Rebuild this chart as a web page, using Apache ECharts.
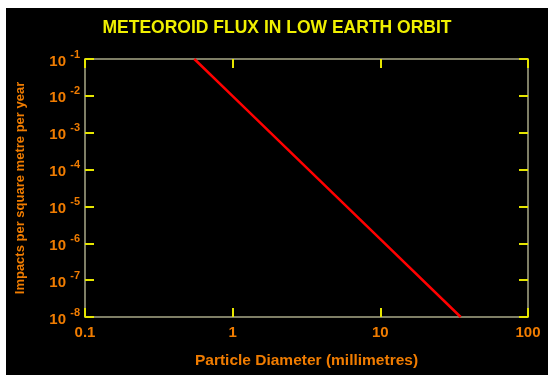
<!DOCTYPE html>
<html><head><meta charset="utf-8">
<script src="https://cdn.jsdelivr.net/npm/echarts@6/dist/echarts.min.js"></script>
<style>
html,body{margin:0;padding:0;background:#fff;width:548px;height:375px;overflow:hidden}
#c{position:absolute;left:6px;top:8px;width:542px;height:367px;background:#000}
</style></head>
<body><div id="c"></div>
<script>
var titleText = 'METEOROID FLUX IN LOW EARTH ORBIT';
var xName = 'Particle Diameter (millimetres)';
var yName = 'Impacts per square metre per year';
var diameters = [0.55, 1, 10, 35];
var flux = [1e-1, 9.8e-3, 1.3e-6, 1e-8];
var xTickLabels = ['0.1', '1', '10', '100'];
var yExponents = [-8, -7, -6, -5, -4, -3, -2, -1];

var ORANGE = '#f07c00', YELLOW = '#f0f000', AXIS = '#a8a888', TICK = '#e6e600';
var FONT = '"Liberation Sans", Arial, sans-serif';

function exp10(v){ return Math.round(Math.log(v)/Math.LN10); }
var chart = echarts.init(document.getElementById('c'), null, {renderer:'canvas'});
var data = diameters.map(function(d,i){ return [d, flux[i]]; });

function xAx(pos, show){
  return {
    type:'log', logBase:10, min:0.1, max:100, interval:1, position:pos,
    name: show ? xName : '', nameLocation:'middle', nameGap:36,
    nameTextStyle:{color:ORANGE, fontSize:15.5, fontWeight:'bold', fontFamily:FONT},
    axisLine:{show:true, onZero:false, lineStyle:{color:AXIS, width:1.5}},
    axisTick:{show:true, inside:true, length:9, lineStyle:{color:TICK, width:2}},
    axisLabel:{show:show, color:ORANGE, fontSize:15, fontWeight:'bold', fontFamily:FONT, margin:8,
      formatter:function(v){ var e = exp10(v); return xTickLabels[e+1]; }},
    splitLine:{show:false}, minorTick:{show:false}
  };
}
function yAx(pos, show){
  return {
    type:'log', logBase:10, min:1e-8, max:1e-1, interval:1, position:pos,
    name: show ? yName : '', nameLocation:'middle', nameGap:58, nameRotate:90,
    nameTextStyle:{color:ORANGE, fontSize:13, fontWeight:'bold', fontFamily:FONT},
    axisLine:{show:true, onZero:false, lineStyle:{color:AXIS, width:1.5}},
    axisTick:{show:true, inside:true, length:9, lineStyle:{color:TICK, width:2}},
    axisLabel:{show:show, margin:5,
      formatter:function(v){ var e = exp10(v); return '{b|10 }{s|' + e + '}'; },
      rich:{
        b:{color:ORANGE, fontSize:15, fontWeight:'bold', fontFamily:FONT, lineHeight:20, verticalAlign:'bottom'},
        s:{color:ORANGE, fontSize:11, fontWeight:'bold', fontFamily:FONT, lineHeight:12, verticalAlign:'top'}
      }},
    splitLine:{show:false}, minorTick:{show:false}
  };
}

chart.setOption({
  backgroundColor:'#000',
  animation:false,
  title:{text:titleText, left:'center', top:6,
    textStyle:{color:YELLOW, fontSize:17.5, fontWeight:'bold', fontFamily:FONT}},
  grid:{left:76, right:20, top:51, bottom:58, containLabel:false},
  xAxis:[xAx('bottom', true), xAx('top', false)],
  yAxis:[yAx('left', true), yAx('right', false)],
  series:[{type:'line', data:data, showSymbol:false, symbol:'none',
    lineStyle:{color:'#ff0000', width:2.5}, clip:true}]
});
</script></body></html>
